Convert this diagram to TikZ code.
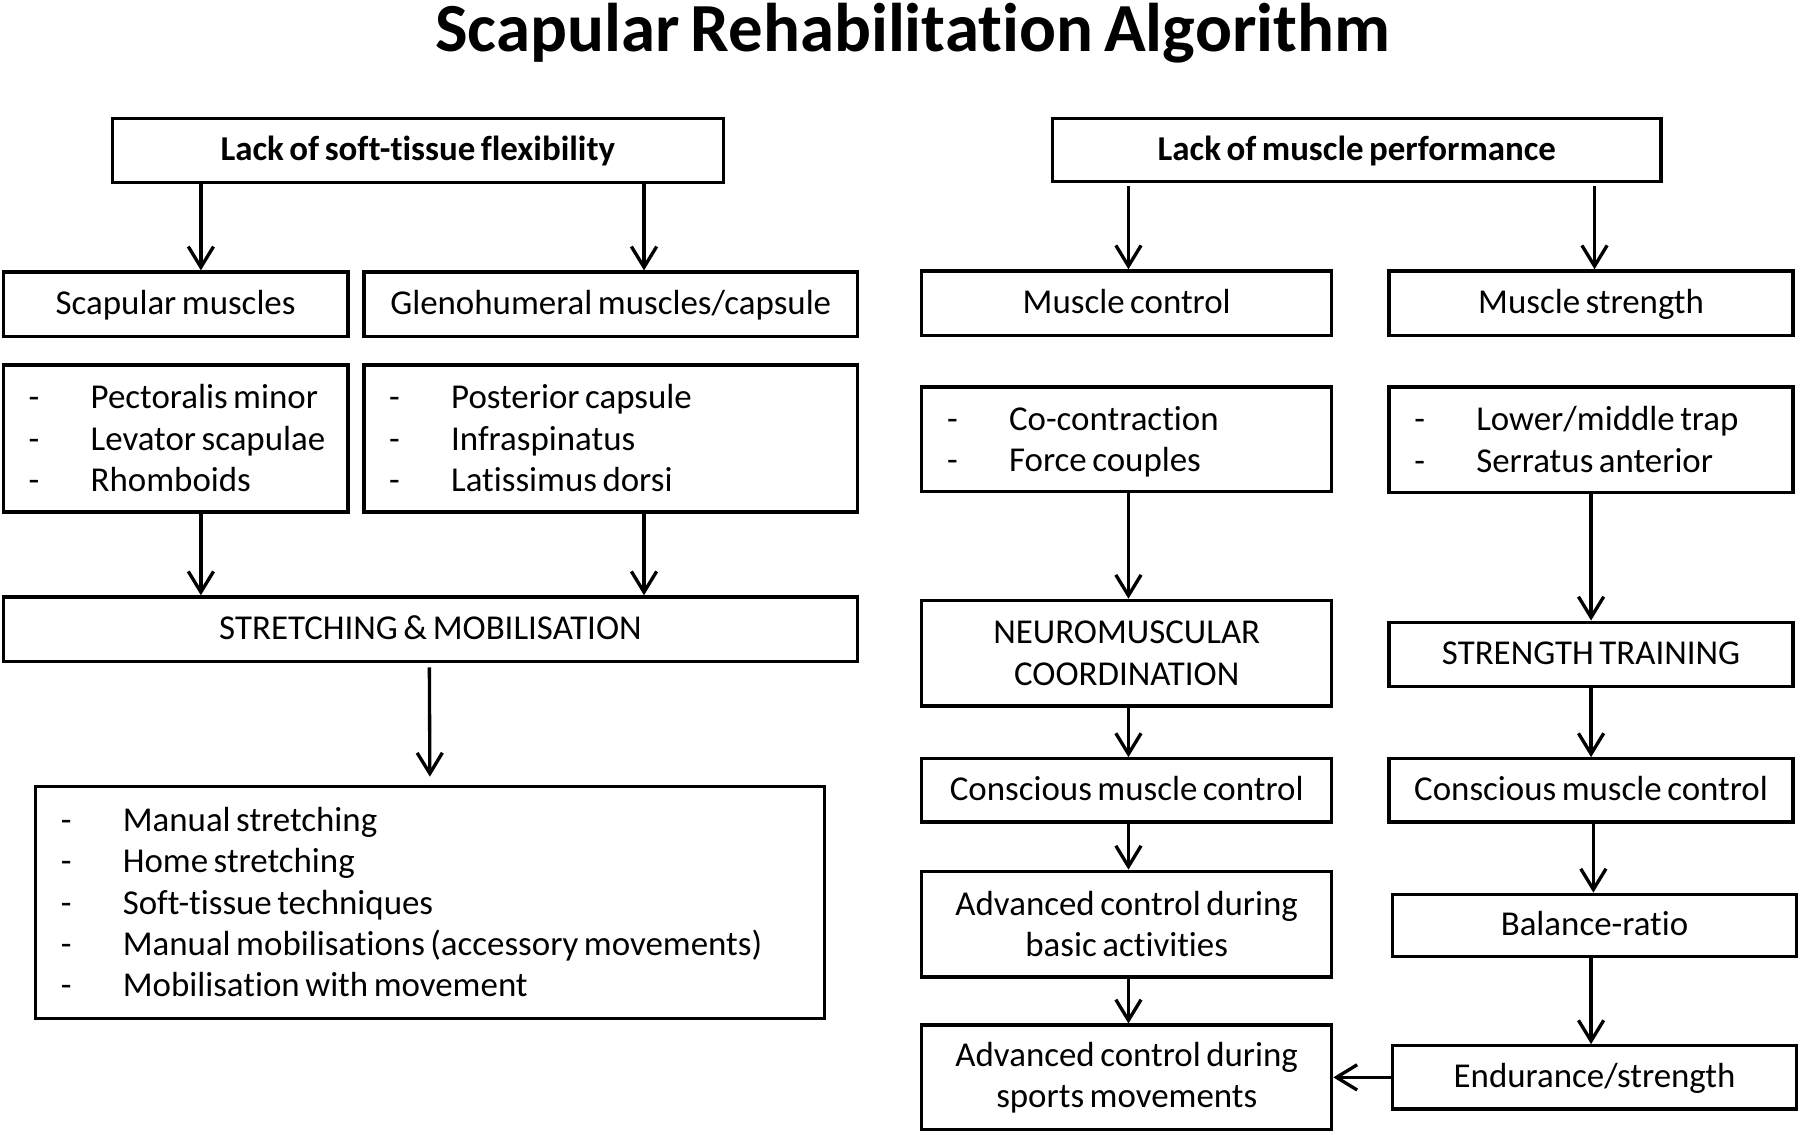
\documentclass[tikz,border=0pt]{standalone}
\usepackage{fontspec}
\setmainfont{Carlito}[Ligatures=NoCommon, WordSpace=0.7]
\usetikzlibrary{arrows.meta}
\begin{document}
\begin{tikzpicture}[x=0.5pt,y=-0.5pt,
  box/.style={draw, line width=1.45pt, inner sep=0pt, align=center, font=\fontsize{15.2}{18}\selectfont},
  one/.style={box, text height=11pt, text depth=2pt},
  hbox/.style={one, font=\fontsize{15.2}{18}\selectfont\bfseries},
  arr/.style={line width=1.45pt, -{Straight Barb[length=9pt,width=11pt,line width=1.45pt]}}]
\newcommand\lst[2]{\raisebox{0pt}[\dimexpr\height+3pt\relax][\depth]{\makebox[#1][l]{\begin{tabular}{@{}p{27pt}@{}l@{}}#2\end{tabular}}}}
\useasboundingbox (0,0) rectangle (1568,988);
\node[font=\fontsize{30}{34}\selectfont\bfseries, anchor=base] (title) at (795,45) {Scapular Rehabilitation Algorithm};
% left tree
\node[hbox, minimum width=266pt, minimum height=28pt] (A) at (364,131) {Lack of soft-tissue flexibility};
\node[one, minimum width=150pt, minimum height=28pt] (sm) at (153,265) {Scapular muscles};
\node[one, minimum width=215pt, minimum height=28pt] (gh) at (532,265) {Glenohumeral muscles/capsule};
\node[box, minimum width=150pt, minimum height=64pt] (l1) at (153,382) {\lst{128pt}{-&Pectoralis minor\\-&Levator scapulae\\-&Rhomboids}};
\node[box, minimum width=215pt, minimum height=64pt] (l2) at (532,382) {\lst{193pt}{-&Posterior capsule\\-&Infraspinatus\\-&Latissimus dorsi}};
\node[one, minimum width=372pt, minimum height=28pt] (st) at (375,548) {STRETCHING \& MOBILISATION};
\node[box, minimum width=343.5pt, minimum height=101pt] (bl) at (374.5,786) {\lst{321.5pt}{-&Manual stretching\\-&Home stretching\\-&Soft-tissue techniques\\-&Manual mobilisations (accessory movements)\\-&Mobilisation with movement}};
% right tree
\node[hbox, minimum width=265pt, minimum height=27.5pt] (B) at (1182,130.5) {Lack of muscle performance};
\node[one, minimum width=178.5pt, minimum height=28pt] (mc) at (981.5,264) {Muscle control};
\node[one, minimum width=176pt, minimum height=28pt] (ms) at (1386,264) {Muscle strength};
\node[box, minimum width=178.5pt, minimum height=45.5pt] (l3) at (981.5,382.5) {\lst{156.5pt}{-&Co-contraction\\-&Force couples}};
\node[box, minimum width=176pt, minimum height=46pt] (l4) at (1386,383) {\lst{154pt}{-&Lower/middle trap\\-&Serratus anterior}};
\node[box, minimum width=178.5pt, minimum height=46pt] (nm) at (981.5,569) {NEUROMUSCULAR\\COORDINATION};
\node[one, minimum width=176pt, minimum height=28pt] (stt) at (1386,570) {STRENGTH TRAINING};
\node[one, minimum width=178.5pt, minimum height=27.5pt] (ccL) at (981.5,688.5) {Conscious muscle control};
\node[one, minimum width=176pt, minimum height=27.5pt] (ccR) at (1386,688.5) {Conscious muscle control};
\node[box, minimum width=178.5pt, minimum height=46pt] (ab) at (981.5,805) {Advanced control during\\basic activities};
\node[one, minimum width=176pt, minimum height=27pt] (br) at (1389,806) {Balance-ratio};
\node[box, minimum width=178.5pt, minimum height=45.5pt] (as) at (981.5,938.5) {Advanced control during\\sports movements};
\node[one, minimum width=176pt, minimum height=27.5pt] (es) at (1389,938.5) {Endurance/strength};
% arrows left
\draw[arr] ([xshift=-94.5pt]A.south) -- ([xshift=11pt]sm.north);
\draw[arr] ([xshift=98.5pt]A.south) -- ([xshift=14.5pt]gh.north);
\draw[arr] ([xshift=11pt]l1.south) -- ([xshift=-100pt]st.north);
\draw[arr] ([xshift=14.5pt]l2.south) -- ([xshift=93pt]st.north);
\draw[arr, shorten <=2pt, shorten >=3.5pt] ([xshift=-0.5pt]st.south) -- (bl.north);
% arrows right
\draw[arr, shorten <=1.5pt] ([xshift=-99.5pt]B.south) -- ([xshift=0.75pt]mc.north);
\draw[arr, shorten <=1.5pt] ([xshift=103.5pt]B.south) -- ([xshift=1.5pt]ms.north);
\draw[arr] ([xshift=0.75pt]l3.south) -- ([xshift=0.75pt]nm.north);
\draw[arr] (l4.south) -- (stt.north);
\draw[arr] ([xshift=0.75pt]nm.south) -- ([xshift=0.75pt]ccL.north);
\draw[arr] (stt.south) -- (ccR.north);
\draw[arr] ([xshift=0.75pt]ccL.south) -- ([xshift=0.75pt]ab.north);
\draw[arr] ([xshift=1pt]ccR.south) -- ([xshift=-0.5pt]br.north);
\draw[arr] ([xshift=0.75pt]ab.south) -- ([xshift=0.75pt]as.north);
\draw[arr] ([xshift=-1.5pt]br.south) -- ([xshift=-1.5pt]es.north);
\draw[arr] (es.west) -- (as.east);
\end{tikzpicture}
\end{document}
